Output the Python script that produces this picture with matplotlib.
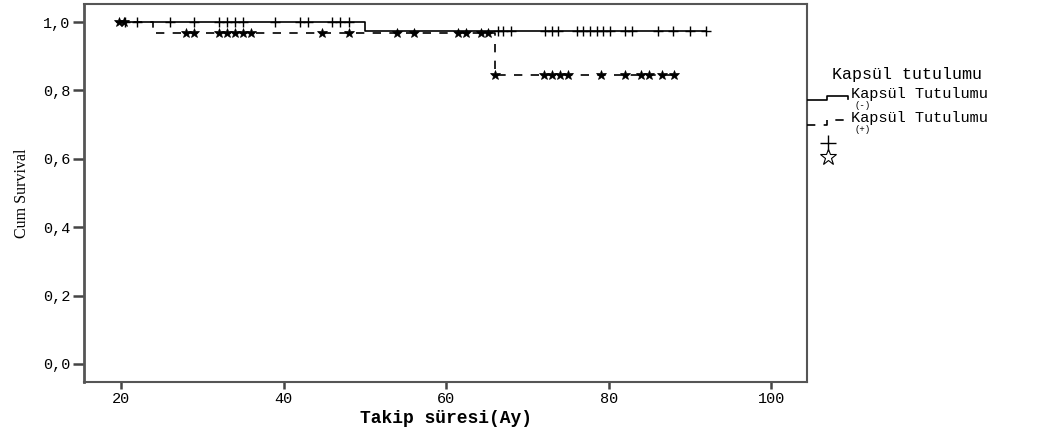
import numpy as np
import matplotlib
matplotlib.use("Agg")
import matplotlib.pyplot as plt

# Kaplan-Meier curves
# Kapsul tutulumu (-) : solid line, "+" censor marks
neg_start, neg_end = 19.5, 92
neg_event_times = [50]
neg_surv = [1.0, 0.975]
neg_censor = [20.5, 22, 26, 29, 32, 33, 34, 35, 39, 42, 43, 46, 47, 48,
              66.4, 67, 68, 72.2, 73, 73.8, 76.1, 76.9, 77.7, 78.6, 79.3, 80.2,
              82, 82.9, 86.1, 87.9, 90, 92]

# Kapsul tutulumu (+) : dashed line, star censor marks
pos_start, pos_end = 19.5, 88
pos_event_times = [24, 66]
pos_surv = [1.0, 0.967, 0.846]
pos_censor = [19.8, 20.4, 28, 29, 32, 33, 34, 35, 36, 44.7, 48, 54, 56,
              61.5, 62.5, 64.3, 65.2, 66, 72, 73, 74, 75, 79, 82, 84, 85,
              86.5, 88]

x_ticks = [20, 40, 60, 80, 100]
y_ticks = [0.0, 0.2, 0.4, 0.6, 0.8, 1.0]
y_tick_labels = ["0,0", "0,2", "0,4", "0,6", "0,8", "1,0"]

mono = "Liberation Mono"


def level_at(times, event_times, surv):
    idx = np.searchsorted(event_times, times, side="right")
    return np.array(surv)[idx]


fig = plt.figure(figsize=(10.63, 4.32), dpi=100)
ax = fig.add_axes([84 / 1063, 50 / 432, (807 - 84) / 1063, (382 - 4) / 432])

# solid curve
xs = [neg_start] + neg_event_times + [neg_end]
ys = neg_surv + [neg_surv[-1]]
ax.step(xs, ys, where="post", color="black", lw=1.2)
ax.plot(neg_censor, level_at(neg_censor, neg_event_times, neg_surv), "+",
        color="black", ms=7, mew=1.0)

# dashed curve
xs = [pos_start] + pos_event_times + [pos_end]
ys = pos_surv + [pos_surv[-1]]
ax.step(xs, ys, where="post", color="black", lw=1.2, linestyle=(0, (5, 5)))
ax.plot(pos_censor, level_at(pos_censor, pos_event_times, pos_surv), "*",
        color="black", ms=7, mew=0.5)

ax.set_xlim(15.45, 104.4)
ax.set_ylim(-0.053, 1.053)
ax.set_xticks(x_ticks)
ax.set_xticklabels([str(t) for t in x_ticks], fontfamily=mono, fontsize=11)
ax.set_yticks(y_ticks)
ax.set_yticklabels(y_tick_labels, fontfamily=mono, fontsize=11)
ax.tick_params(axis="both", direction="out", width=1.8, color="#444444")
ax.tick_params(axis="x", length=5, pad=2)
ax.tick_params(axis="y", length=8, pad=1.5)
for side in ["left", "bottom", "right", "top"]:
    ax.spines[side].set_color("#555555")
    ax.spines[side].set_linewidth(1.5)
ax.spines["left"].set_linewidth(2)

ax.set_xlabel("Takip süresi(Ay)", fontfamily=mono, fontweight="bold",
              fontsize=13, labelpad=3)
ax.set_ylabel("Cum Survival", fontfamily="Liberation Serif", fontsize=11.5,
              labelpad=10)

# legend drawn in pixel space to the right of the plot
lg = fig.add_axes([807 / 1063, 0, (1063 - 807) / 1063, 1])
lg.set_xlim(807, 1063)
lg.set_ylim(432, 0)
lg.axis("off")
lg.text(832, 75, "Kapsül tutulumu", fontfamily=mono, fontsize=12, va="center")
lg.plot([807, 827, 827, 848, 848], [100, 100, 96, 96, 99], color="black", lw=1.2)
lg.text(851, 94, "Kapsül Tutulumu", fontfamily=mono, fontsize=11, va="center")
lg.text(855, 105.5, "(-)", fontfamily=mono, fontsize=6.5, va="center")
lg.plot([807, 827, 827, 848, 848], [125, 125, 120, 120, 123], color="black",
        lw=1.2, linestyle=(0, (5, 5)))
lg.text(851, 118, "Kapsül Tutulumu", fontfamily=mono, fontsize=11, va="center")
lg.text(855, 129.5, "(+)", fontfamily=mono, fontsize=6.5, va="center")
lg.plot([828], [143], "+", color="black", ms=12, mew=1.0)
lg.plot([828], [157], "*", color="black", ms=12, mew=0.8, mfc="none")

fig.savefig("out.png", dpi=100)
